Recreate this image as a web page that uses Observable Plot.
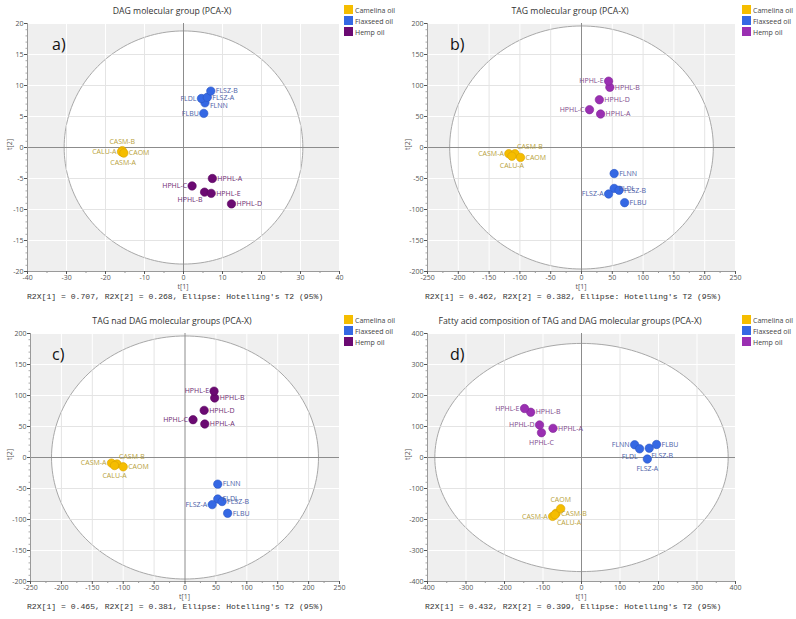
<!DOCTYPE html>
<html>
<head>
<meta charset="utf-8">
<script src="https://cdn.jsdelivr.net/npm/d3@7"></script>
<script src="https://cdn.jsdelivr.net/npm/@observablehq/plot@0.6"></script>
<style>
  body { margin:0; background:#fff; }
  #wrap { position:relative; width:796px; height:619px; overflow:hidden; font-family:"Open Sans", sans-serif; }
  .panel { position:absolute; width:398px; height:310px; }
  .panel svg { position:absolute; left:0; top:0; }
  .title { position:absolute; top:5px; left:0; width:344px; text-align:center; font-size:8.7px; color:#333; white-space:nowrap; }
  .letter { position:absolute; left:52px; top:33px; font-size:16px; color:#111; }
  .legend { position:absolute; left:344px; top:5px; font-size:7px; color:#444; }
  .legend div { height:11px; line-height:10px; white-space:nowrap; }
  .legend span.sw { display:inline-block; width:9px; height:9px; vertical-align:-1px; margin-right:2px; }
  .footer { position:absolute; left:27px; top:292px; font-family:"Liberation Mono", "DejaVu Sans Mono", monospace; font-size:8.1px; color:#333; white-space:pre; }
  .xlab { position:absolute; top:282px; font-size:7px; color:#555; transform:translateX(-50%); }
  .ylab { position:absolute; left:4px; font-size:7px; color:#555; transform:rotate(-90deg); transform-origin:center; }
</style>
</head>
<body>
<div id="wrap"></div>
<script>
// ---- data ----
const groups = ["Camelina oil", "Flaxseed oil", "Hemp oil"];
const sampleNames = ["CASM-A","CASM-B","CALU-A","CAOM","FLNN","FLDL","FLSZ-A","FLSZ-B","FLBU","HPHL-A","HPHL-B","HPHL-C","HPHL-D","HPHL-E"];
const sampleGroup = ["Camelina oil","Camelina oil","Camelina oil","Camelina oil","Flaxseed oil","Flaxseed oil","Flaxseed oil","Flaxseed oil","Flaxseed oil","Hemp oil","Hemp oil","Hemp oil","Hemp oil","Hemp oil"];

// a) DAG
const dagT1 = [-15.5,-15.7,-15.9,-15.3, 5.5,4.6,6.1,7.0,5.2, 7.4,5.4,2.2,12.3,7.1];
const dagT2 = [-0.8,-0.5,-0.7,-0.9, 7.2,7.9,8.1,9.1,5.5, -5.0,-7.2,-6.2,-9.1,-7.4];
// b) TAG
const tagT1 = [-118,-108,-113,-99, 53,53,44,61,70, 31,46,13,29,44];
const tagT2 = [-10,-10,-14,-16, -42,-66,-75,-69,-89, 54,97,61,77,107];
// c) TAG and DAG
const bothT1 = [-119,-110,-114,-100, 53,53,44,60,69, 32,48,13,31,47];
const bothT2 = [-9,-10.5,-13,-15, -43,-67,-76,-71,-90, 54,96,61,76,107];
// d) Fatty acid composition
const faT1 = [-75,-66,-69,-54, 138,151,171,176,195, -74,-132,-104,-109,-148];
const faT2 = [-190,-180,-185,-165, 41,28,-5,30,42, 94,146,80,105,158];

// label side per sample
const dagSide  = ["below","above","left","right", "rightlow","left","right","right","left", "right","belowleft","left","right","right"];
const tagSide  = ["left","aboveright","below","right", "right","right","left","right","right", "right","right","left","right","left"];
const bothSide = ["left","aboveright","below","right", "right","right","left","right","right", "right","right","left","right","left"];
const faSide   = ["left","right","belowright","above", "left","belowleft","below","belowright","right", "right","right","below","left","left"];

// Hotelling T2 ellipse radii (t1, t2)
const dagEllipse = [30.6, 18.8];
const tagEllipse = [214, 196];
const bothEllipse = [216, 196];
const faEllipse = [381, 368];

const titles = ["DAG molecular group (PCA-X)", "TAG molecular group (PCA-X)", "TAG nad DAG molecular groups (PCA-X)", "Fatty acid composition of TAG and DAG molecular groups (PCA-X)"];
const letters = ["a)", "b)", "c)", "d)"];
const r2x1 = ["0.707", "0.462", "0.465", "0.432"];
const r2x2 = ["0.268", "0.382", "0.381", "0.399"];

// ---- drawing ----
const panels = [
  {t1: dagT1, t2: dagT2, side: dagSide, ell: dagEllipse, xd: [-40,40], yd: [-20,20], xs: 10, ys: 5, hemp: "#6b0a72", hempLab: "#6e2c72", ml: 27, mr: 59, left: 0, top: 0},
  {t1: tagT1, t2: tagT2, side: tagSide, ell: tagEllipse, xd: [-250,250], yd: [-200,200], xs: 50, ys: 50, hemp: "#9a2fb2", hempLab: "#7e4a8a", ml: 29, mr: 61, left: 398, top: 0},
  {t1: bothT1, t2: bothT2, side: bothSide, ell: bothEllipse, xd: [-250,250], yd: [-200,200], xs: 50, ys: 50, hemp: "#6b0a72", hempLab: "#6e2c72", ml: 30, mr: 59, left: 0, top: 310},
  {t1: faT1, t2: faT2, side: faSide, ell: faEllipse, xd: [-400,400], yd: [-400,400], xs: 100, ys: 100, hemp: "#9a2fb2", hempLab: "#7e4a8a", ml: 29, mr: 61, left: 398, top: 310}
];

const sideOpts = {
  right: {dx: 5, dy: 0, textAnchor: "start"},
  rightlow: {dx: 5, dy: 3, textAnchor: "start"},
  left: {dx: -5, dy: 0, textAnchor: "end"},
  above: {dx: 0, dy: -9, textAnchor: "middle"},
  below: {dx: 0, dy: 10, textAnchor: "middle"},
  belowleft: {dx: -2, dy: 8, textAnchor: "end"},
  belowright: {dx: 2, dy: 8, textAnchor: "start"},
  aboveright: {dx: 2, dy: -7, textAnchor: "start"}
};

const wrap = document.getElementById("wrap");

panels.forEach((p, k) => {
  const div = document.createElement("div");
  div.className = "panel";
  div.style.left = p.left + "px";
  div.style.top = p.top + "px";
  wrap.appendChild(div);

  const fillCol = {"Camelina oil": "#f5bd00", "Flaxseed oil": "#3568e4", "Hemp oil": p.hemp};
  const strokeCol = {"Camelina oil": "#d9a200", "Flaxseed oil": "#2a55c2", "Hemp oil": d3.color(p.hemp).darker(0.5).formatHex()};
  const labCol = {"Camelina oil": "#b8a23c", "Flaxseed oil": "#4a5ea6", "Hemp oil": p.hempLab};

  const data = sampleNames.map((n, i) => ({name: n, group: sampleGroup[i], x: p.t1[i], y: p.t2[i], side: p.side[i]}));
  const [rx, ry] = p.ell;
  const xTicks = d3.range(p.xd[0], p.xd[1] + 1e-9, p.xs);
  const yTicks = d3.range(p.yd[0], p.yd[1] + 1e-9, p.ys);
  const xMinor = d3.range(p.xd[0], p.xd[1] + 1e-9, p.xs / 2).filter(v => !xTicks.includes(v));
  const yMinor = d3.range(p.yd[0], p.yd[1] + 1e-9, p.ys / 5).map(v => Math.round(v * 1000) / 1000).filter(v => !yTicks.some(t => Math.abs(t - v) < 1e-6));

  const ellipse = d3.range(0, 361, 2).map(a => ({x: rx * Math.cos(a * Math.PI / 180), y: ry * Math.sin(a * Math.PI / 180)}));
  const innerV = xTicks.filter(g => Math.abs(g) < rx && g !== 0).map(g => { const h = ry * Math.sqrt(1 - (g / rx) ** 2); return {x1: g, x2: g, y1: -h, y2: h}; });
  const innerH = yTicks.filter(g => Math.abs(g) < ry && g !== 0).map(g => { const w = rx * Math.sqrt(1 - (g / ry) ** 2); return {x1: -w, x2: w, y1: g, y2: g}; });

  const textMarks = [];
  for (const g of groups) {
    for (const s of Object.keys(sideOpts)) {
      const sub = data.filter(d => d.group === g && d.side === s);
      if (!sub.length) continue;
      textMarks.push(Plot.text(sub, {x: "x", y: "y", text: "name", fill: labCol[g], fontSize: 7, ...sideOpts[s]}));
    }
  }

  const svg = Plot.plot({
    width: 398, height: 310,
    marginTop: 23, marginBottom: 39, marginLeft: p.ml, marginRight: p.mr,
    style: {fontFamily: "'Open Sans', sans-serif", fontSize: "7px", background: "transparent", overflow: "visible"},
    x: {domain: p.xd},
    y: {domain: p.yd},
    color: {domain: groups, range: groups.map(g => fillCol[g])},
    marks: [
      Plot.frame({fill: "#efefef", stroke: null}),
      Plot.ruleX(xTicks, {stroke: "#ffffff", strokeWidth: 1}),
      Plot.ruleY(yTicks, {stroke: "#ffffff", strokeWidth: 1}),
      Plot.line(ellipse, {x: "x", y: "y", fill: "white", stroke: "#a8a8a8", strokeWidth: 1}),
      Plot.link(innerV, {x1: "x1", y1: "y1", x2: "x2", y2: "y2", stroke: "#e4e4e4", strokeWidth: 1}),
      Plot.link(innerH, {x1: "x1", y1: "y1", x2: "x2", y2: "y2", stroke: "#e4e4e4", strokeWidth: 1}),
      Plot.ruleX([0], {stroke: "#8c8c8c", strokeWidth: 1}),
      Plot.ruleY([0], {stroke: "#8c8c8c", strokeWidth: 1}),
      Plot.ruleX([p.xd[0]], {stroke: "#9a9a9a"}),
      Plot.ruleY([p.yd[0]], {stroke: "#9a9a9a"}),
      Plot.axisX({ticks: xTicks, tickSize: 3, tickPadding: 1, tickFormat: d => String(d), color: "#555", fontSize: 7, label: null}),
      Plot.axisY({ticks: yTicks, tickSize: 3, tickPadding: 1, tickFormat: d => String(d), color: "#555", fontSize: 7, label: null}),
      Plot.axisX({ticks: xMinor, tickSize: 2, tickFormat: () => "", stroke: "#999", label: null}),
      Plot.axisY({ticks: yMinor, tickSize: 1.5, tickFormat: () => "", stroke: "#aaa", label: null}),
      Plot.dot(data, {x: "x", y: "y", r: 4.2, fill: "group", stroke: d => strokeCol[d.group], strokeWidth: 0.6}),
      ...textMarks
    ]
  });
  div.appendChild(svg);

  const title = document.createElement("div");
  title.className = "title";
  title.textContent = titles[k];
  div.appendChild(title);

  const letter = document.createElement("div");
  letter.className = "letter";
  letter.textContent = letters[k];
  div.appendChild(letter);

  const leg = document.createElement("div");
  leg.className = "legend";
  groups.forEach(g => {
    const row = document.createElement("div");
    row.innerHTML = `<span class="sw" style="background:${fillCol[g]}"></span>${g}`;
    leg.appendChild(row);
  });
  div.appendChild(leg);

  const xl = document.createElement("div");
  xl.className = "xlab";
  xl.style.left = (p.ml + (398 - p.ml - p.mr) / 2) + "px";
  xl.textContent = "t[1]";
  div.appendChild(xl);

  const yl = document.createElement("div");
  yl.className = "ylab";
  yl.style.top = "140px";
  yl.textContent = "t[2]";
  div.appendChild(yl);

  const foot = document.createElement("div");
  foot.className = "footer";
  foot.textContent = `R2X[1] = ${r2x1[k]}, R2X[2] = ${r2x2[k]}, Ellipse: Hotelling's T2 (95%)`;
  div.appendChild(foot);
});
</script>
</body>
</html>
